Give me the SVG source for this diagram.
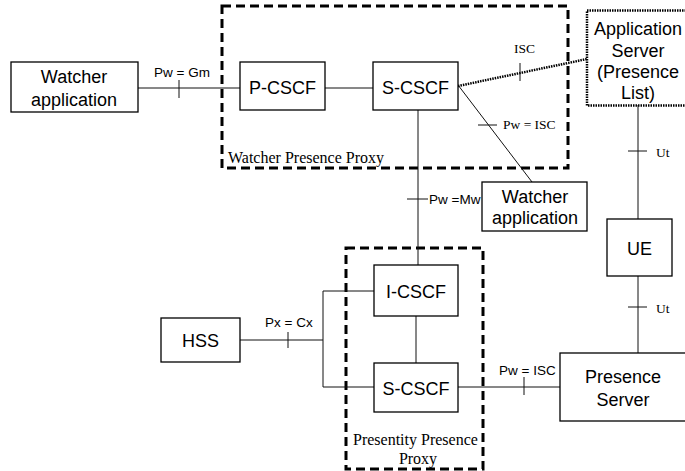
<svg xmlns="http://www.w3.org/2000/svg" width="685" height="471" viewBox="0 0 685 471">
<style>
.box{fill:#fff;stroke:#000;stroke-width:1.3}
.t{font-family:"Liberation Sans",Arial,sans-serif;font-size:18px;fill:#000;text-anchor:middle}
.s{font-family:"Liberation Sans",Arial,sans-serif;font-size:13.5px;fill:#000}
.r{font-family:"Liberation Serif","Times New Roman",serif;font-size:13.5px;fill:#000}
.rl{font-family:"Liberation Serif","Times New Roman",serif;font-size:16px;fill:#000}
.ln{fill:none;stroke:#111;stroke-width:1}
.dash{fill:none;stroke:#000;stroke-width:3;stroke-dasharray:9 5}
.dot{fill:none;stroke:#000;stroke-width:2.5;stroke-dasharray:1.5 1}
</style>
<rect width="685" height="471" fill="#fff"/>
<g id="proxies">
<rect class="dash" x="222" y="6" width="346" height="162"/>
<text class="rl" x="228" y="163">Watcher Presence Proxy</text>
<rect class="dash" x="346" y="248" width="137" height="221"/>
<text class="rl" x="353" y="445">Presentity Presence</text>
<text class="rl" x="418" y="464" text-anchor="middle">Proxy</text>
</g>
<g id="connectors">
<line class="ln" x1="138" y1="88" x2="240" y2="88"/>
<line class="ln" x1="179" y1="80" x2="179" y2="98"/>
<text class="s" x="154" y="77">Pw = Gm</text>
<line class="ln" x1="325" y1="88" x2="373" y2="88"/>
<line class="dot" x1="458" y1="86" x2="587" y2="59"/>
<line class="ln" x1="520" y1="63" x2="520" y2="81"/>
<text class="r" x="514" y="53">ISC</text>
<line class="ln" x1="458" y1="85" x2="532" y2="182"/>
<line class="ln" x1="478" y1="125" x2="497" y2="125"/>
<text class="r" x="503" y="129">Pw = ISC</text>
<line class="ln" x1="418" y1="110" x2="418" y2="266"/>
<line class="ln" x1="407" y1="199" x2="428" y2="199"/>
<text class="s" x="429" y="204">Pw =Mw</text>
<line class="ln" x1="638" y1="105" x2="638" y2="219"/>
<line class="ln" x1="628" y1="151" x2="647" y2="151"/>
<text class="r" x="656" y="157">Ut</text>
<line class="ln" x1="638" y1="276" x2="638" y2="353"/>
<line class="ln" x1="628" y1="307" x2="647" y2="307"/>
<text class="r" x="656" y="313">Ut</text>
<line class="ln" x1="416" y1="316" x2="416" y2="363"/>
<line class="ln" x1="240" y1="340" x2="323" y2="340"/>
<line class="ln" x1="288" y1="332" x2="288" y2="348"/>
<text class="s" x="265" y="327">Px = Cx</text>
<polyline class="ln" points="374,291 323,291 323,387 374,387"/>
<line class="ln" x1="458" y1="387" x2="560" y2="387"/>
<line class="ln" x1="524" y1="377" x2="524" y2="395"/>
<text class="s" x="499" y="375">Pw = ISC</text>
</g>
<g id="watcher-app-1">
<rect class="box" x="11" y="62" width="127" height="50"/>
<text class="t" x="74" y="83">Watcher</text>
<text class="t" x="74" y="106">application</text>
</g>
<g id="p-cscf">
<rect class="box" x="240" y="62" width="85" height="48"/>
<text class="t" x="282.5" y="94">P-CSCF</text>
</g>
<g id="s-cscf-top">
<rect class="box" x="373" y="62" width="85" height="48"/>
<text class="t" x="415.5" y="94">S-CSCF</text>
</g>
<g id="app-server">
<rect class="dot" x="587" y="10.5" width="110" height="95"/>
<text class="t" x="638" y="35">Application</text>
<text class="t" x="638" y="57">Server</text>
<text class="t" x="638" y="78">(Presence</text>
<text class="t" x="638" y="99">List)</text>
</g>
<g id="watcher-app-2">
<rect class="box" x="482" y="182" width="105" height="49"/>
<text class="t" x="535" y="203">Watcher</text>
<text class="t" x="535" y="224">application</text>
</g>
<g id="ue">
<rect class="box" x="607" y="219" width="65" height="57"/>
<text class="t" x="639.5" y="255">UE</text>
</g>
<g id="i-cscf">
<rect class="box" x="374" y="265" width="84" height="51"/>
<text class="t" x="416" y="298">I-CSCF</text>
</g>
<g id="s-cscf-bottom">
<rect class="box" x="374" y="363" width="84" height="49"/>
<text class="t" x="416" y="395">S-CSCF</text>
</g>
<g id="hss">
<rect class="box" x="161" y="318" width="79" height="44"/>
<text class="t" x="200.5" y="347">HSS</text>
</g>
<g id="presence-server">
<rect class="box" x="560" y="353" width="140" height="68"/>
<text class="t" x="623" y="383">Presence</text>
<text class="t" x="623" y="406">Server</text>
</g>
</svg>
